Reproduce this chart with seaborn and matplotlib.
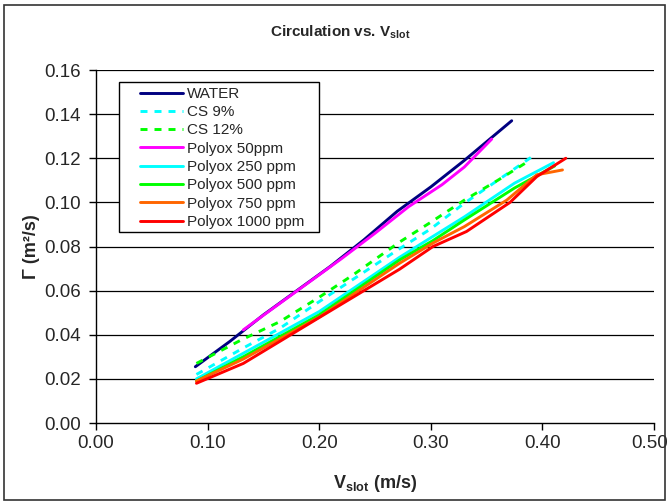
import matplotlib
matplotlib.use("Agg")
import matplotlib.pyplot as plt
import matplotlib.transforms as mtransforms
from matplotlib.patches import Rectangle
import seaborn as sns
import pandas as pd

# Slot velocity (m/s) and circulation (m^2/s) for each fluid
water_x = [0.089, 0.12, 0.15, 0.18, 0.21, 0.24, 0.27, 0.30, 0.33, 0.3725]
water_y = [0.0255, 0.037, 0.049, 0.060, 0.071, 0.083, 0.096, 0.107, 0.119, 0.137]

cs9_x = [0.09, 0.132, 0.165, 0.20, 0.23, 0.272, 0.30, 0.33, 0.36, 0.393]
cs9_y = [0.022, 0.034, 0.043, 0.055, 0.065, 0.079, 0.088, 0.0996, 0.110, 0.1215]

cs12_x = [0.09, 0.13, 0.165, 0.20, 0.23, 0.272, 0.30, 0.33, 0.36, 0.387]
cs12_y = [0.027, 0.0376, 0.046, 0.057, 0.067, 0.082, 0.091, 0.101, 0.110, 0.1185]

p50_x = [0.132, 0.16, 0.19, 0.22, 0.25, 0.28, 0.31, 0.33, 0.3546]
p50_y = [0.0422, 0.0525, 0.0635, 0.0745, 0.086, 0.098, 0.108, 0.116, 0.1287]

p250_x = [0.09, 0.132, 0.20, 0.272, 0.302, 0.33, 0.375, 0.41]
p250_y = [0.020, 0.0316, 0.0505, 0.0751, 0.0846, 0.0934, 0.1087, 0.118]

p500_x = [0.09, 0.132, 0.20, 0.272, 0.302, 0.33, 0.375, 0.411]
p500_y = [0.019, 0.030, 0.049, 0.0739, 0.0827, 0.092, 0.1065, 0.1165]

p750_x = [0.09, 0.132, 0.20, 0.272, 0.302, 0.33, 0.368, 0.395, 0.418]
p750_y = [0.019, 0.029, 0.048, 0.0724, 0.0816, 0.089, 0.101, 0.1125, 0.1147]

p1000_x = [0.09, 0.132, 0.2007, 0.272, 0.302, 0.332, 0.371, 0.395, 0.421]
p1000_y = [0.018, 0.027, 0.048, 0.0697, 0.0800, 0.0868, 0.1000, 0.1117, 0.120]

labels = ["WATER", "CS 9%", "CS 12%", "Polyox 50ppm", "Polyox 250 ppm",
          "Polyox 500 ppm", "Polyox 750 ppm", "Polyox 1000 ppm"]
xs = [water_x, cs9_x, cs12_x, p50_x, p250_x, p500_x, p750_x, p1000_x]
ys = [water_y, cs9_y, cs12_y, p50_y, p250_y, p500_y, p750_y, p1000_y]
colors = ["#000080", "#00FFFF", "#00FF00", "#FF00FF", "#00FFFF",
          "#00FF00", "#FF6600", "#FF0000"]
dashed = [False, True, True, False, False, False, False, False]

x_ticks = [0.0, 0.1, 0.2, 0.3, 0.4, 0.5]
y_ticks = [0.00, 0.02, 0.04, 0.06, 0.08, 0.10, 0.12, 0.14, 0.16]

sns.set_style("white")
plt.rcParams["font.family"] = ["Liberation Sans", "DejaVu Sans"]
plt.rcParams["mathtext.fontset"] = "custom"
plt.rcParams["mathtext.rm"] = "Liberation Sans"
plt.rcParams["mathtext.it"] = "Liberation Sans"
plt.rcParams["mathtext.bf"] = "Liberation Sans:bold"

fig = plt.figure(figsize=(6.69, 5.04), dpi=100)
ax = fig.add_axes([96 / 669, 1 - 423 / 504, 558 / 669, 353 / 504])

for x, y, lab, c, d in zip(xs, ys, labels, colors, dashed):
    df = pd.DataFrame({"x": x, "y": y})
    sns.lineplot(data=df, x="x", y="y", ax=ax, color=c, lw=2.1, sort=False,
                 label=lab, linestyle=(0, (2.4, 2.4)) if d else "-")

ax.set_xlim(0, 0.5)
ax.set_ylim(0, 0.16)
ax.set_xticks(x_ticks)
ax.set_yticks(y_ticks)
ax.set_xticklabels([f"{v:.2f}" for v in x_ticks])
ax.set_yticklabels([f"{v:.2f}" for v in y_ticks])
ax.tick_params(axis="both", labelsize=13.5, direction="out", length=5,
               width=1, color="black", bottom=True, left=True)
ax.tick_params(axis="y", pad=6)
ax.tick_params(axis="x", pad=4)

# keep the last x tick label inside the figure edge
last = ax.get_xticklabels()[-1]
last.set_transform(last.get_transform() +
                   mtransforms.ScaledTranslation(-4 / 100, 0,
                                                 fig.dpi_scale_trans))

for v in y_ticks[1:]:
    ax.axhline(v, color="black", lw=0.9, zorder=0)
for s in ["top", "right"]:
    ax.spines[s].set_visible(False)
for s in ["left", "bottom"]:
    ax.spines[s].set_color("black")
    ax.spines[s].set_linewidth(1.0)

ax.set_xlabel(r"$\mathbf{V_{slot}}$ (m/s)", fontsize=13, fontweight="bold",
              labelpad=15)
ax.set_ylabel("Γ (m²/s)", fontsize=13, fontweight="bold", labelpad=3)
fig.text(340 / 669, 1 - 32 / 504, r"Circulation vs. $\mathbf{V_{slot}}$",
         fontsize=11, fontweight="bold", ha="center", va="center")

# legend with a separate frame drawn in axes coordinates
leg = ax.legend(loc="upper left", bbox_to_anchor=(0.0789, 0.952),
                frameon=False, fontsize=11, handlelength=2.8,
                handletextpad=0.25, labelspacing=0.28, borderpad=0,
                borderaxespad=0)
ax.add_patch(Rectangle((0.0412, 0.541), 0.3584, 0.425, transform=ax.transAxes,
                       facecolor="white", edgecolor="black", lw=1.0,
                       zorder=4))
leg.set_zorder(5)

fig.patches.append(Rectangle((4 / 669, 4 / 504), 661 / 669, 495 / 504,
                             transform=fig.transFigure, fill=False,
                             edgecolor="#333333", lw=1.2))

fig.savefig("out.png", dpi=100)
